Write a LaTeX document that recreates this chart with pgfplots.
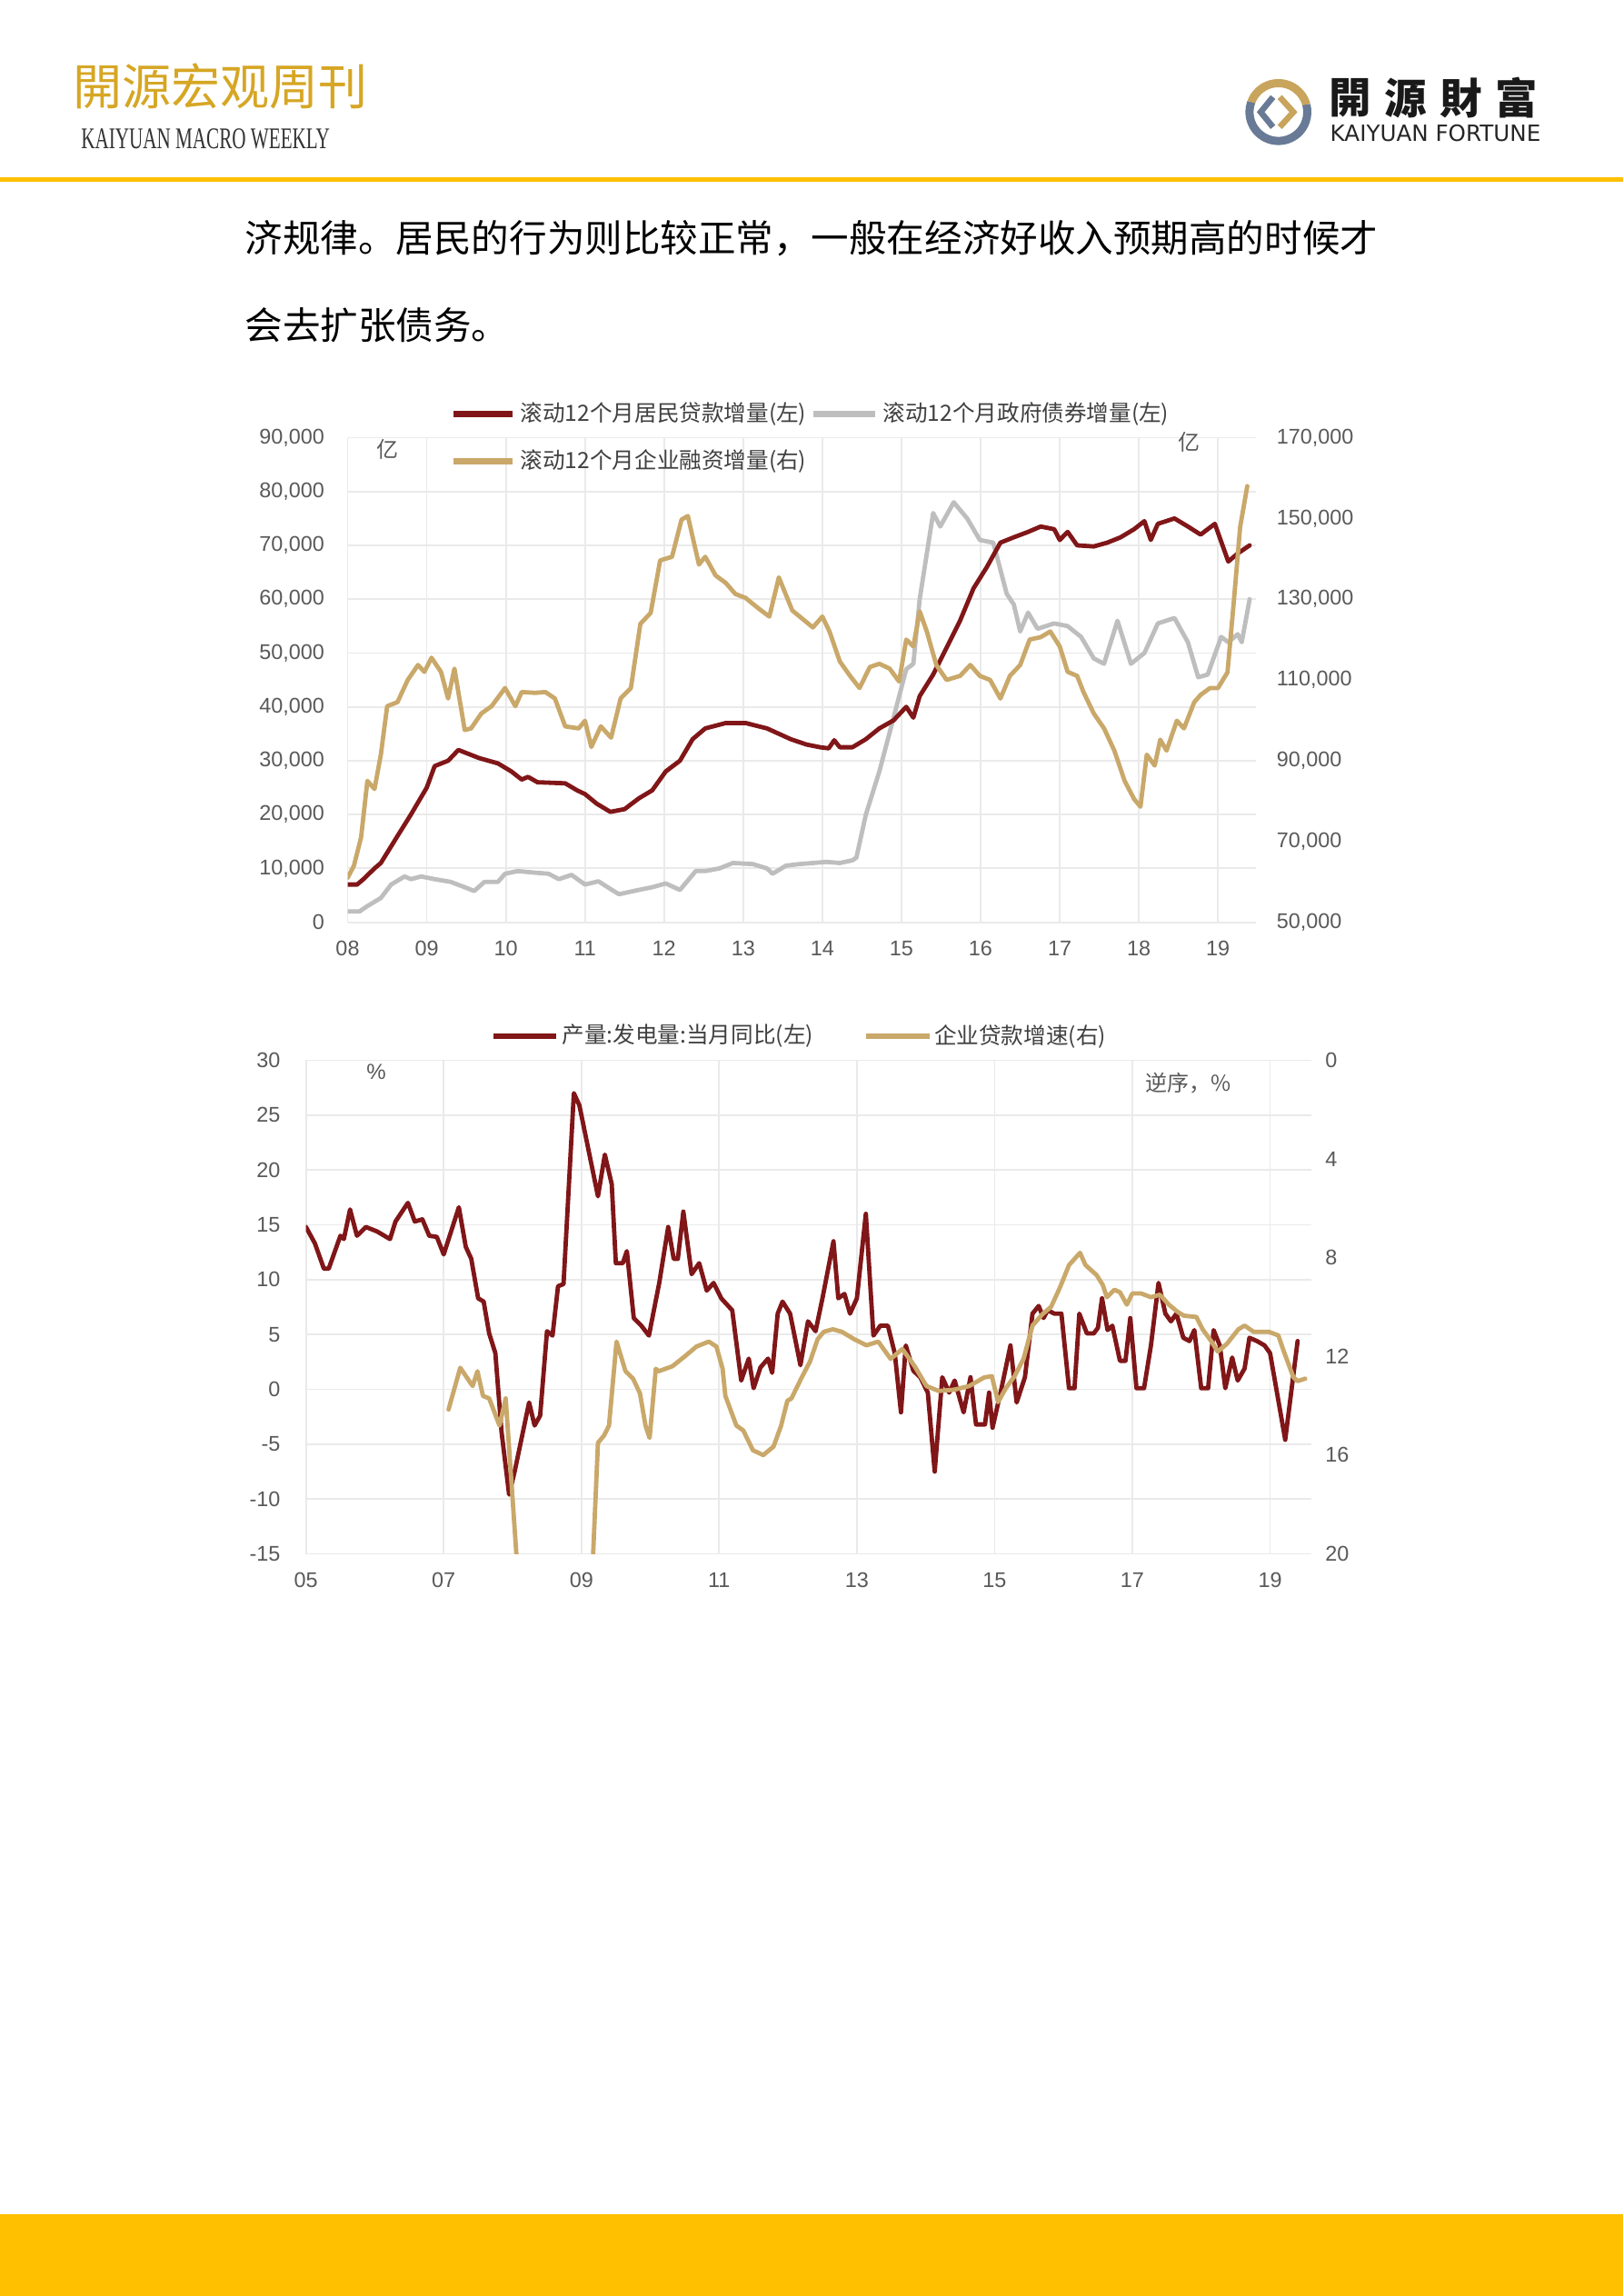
\documentclass[border=0pt]{standalone}
\usepackage{fontspec}
\setmainfont{Liberation Sans}
\newfontfamily\cjk{Noto Sans CJK SC}
\newfontfamily\tcfont{Noto Sans CJK TC}
\newfontfamily\sernarrow{Liberation Serif}
\newfontfamily\dejavu{DejaVu Sans}
\usepackage{pgfplots}
\usepackage{pgfplotstable}
\pgfplotsset{compat=1.18}
\definecolor{hdrgold}{RGB}{214,166,36}
\definecolor{bargold}{RGB}{255,192,0}
\definecolor{redline}{RGB}{128,22,24}
\definecolor{goldline}{RGB}{201,168,106}
\definecolor{grayline}{RGB}{190,190,190}
\definecolor{gridgray}{RGB}{234,234,234}
\definecolor{tickgray}{RGB}{89,89,89}
\definecolor{legtext}{RGB}{64,64,64}
\definecolor{logoblue}{RGB}{104,122,150}
\definecolor{logogold}{RGB}{200,164,92}

\pgfplotstableread{
x y
2008.00 7000
2008.12 7000
2008.20 8000
2008.34 10000
2008.42 11000
2008.63 16000
2008.80 20000
2009.00 25000
2009.10 29000
2009.27 30000
2009.40 32000
2009.66 30500
2009.90 29500
2010.07 28000
2010.20 26500
2010.28 27000
2010.40 26000
2010.75 25800
2010.90 24500
2011.00 23800
2011.15 22000
2011.32 20500
2011.50 21000
2011.68 23000
2011.85 24500
2012.02 28000
2012.20 30000
2012.36 34000
2012.52 36000
2012.78 37000
2013.03 37000
2013.30 36000
2013.45 35000
2013.60 34000
2013.80 33000
2013.97 32500
2014.08 32300
2014.15 33800
2014.22 32500
2014.38 32500
2014.55 34000
2014.72 36000
2014.90 37500
2015.06 40000
2015.15 38000
2015.23 42000
2015.40 46000
2015.57 51000
2015.74 56000
2015.91 62000
2016.08 66000
2016.25 70500
2016.42 71500
2016.60 72500
2016.76 73500
2016.93 73000
2017.00 71000
2017.10 72500
2017.22 70000
2017.43 69800
2017.60 70500
2017.77 71500
2017.94 73000
2018.07 74500
2018.15 71000
2018.24 74000
2018.45 75000
2018.62 73500
2018.78 72000
2018.96 74000
2019.13 67000
2019.25 68500
2019.40 70000
}\resid

\pgfplotstableread{
x y
2008.00 2000
2008.15 2000
2008.25 3000
2008.42 4500
2008.55 7000
2008.72 8500
2008.80 8000
2008.93 8500
2009.10 8000
2009.30 7500
2009.48 6500
2009.60 5800
2009.73 7500
2009.90 7500
2009.99 9000
2010.15 9500
2010.37 9200
2010.54 9000
2010.67 8000
2010.83 8800
2011.00 7000
2011.17 7600
2011.34 6000
2011.43 5200
2011.68 6000
2011.85 6500
2012.02 7200
2012.20 6000
2012.40 9500
2012.52 9500
2012.70 10000
2012.87 11000
2013.12 10800
2013.30 10000
2013.37 9000
2013.54 10500
2013.71 10800
2013.88 11000
2014.05 11200
2014.22 11000
2014.38 11500
2014.43 12000
2014.55 20000
2014.72 28000
2014.90 38000
2015.06 47000
2015.15 48000
2015.23 60000
2015.40 76000
2015.49 73500
2015.66 78000
2015.83 75000
2015.99 71000
2016.16 70500
2016.33 61000
2016.42 59000
2016.50 54000
2016.60 57500
2016.72 54500
2016.93 55500
2017.10 55000
2017.27 53000
2017.43 49000
2017.56 48000
2017.73 56000
2017.90 48000
2018.07 50000
2018.24 55500
2018.45 56500
2018.62 52000
2018.75 45500
2018.87 46000
2019.04 53000
2019.13 52000
2019.25 53500
2019.30 52000
2019.40 60000
}\govt

\pgfplotstableread{
x y
2008.00 61000
2008.08 64000
2008.17 71000
2008.25 85000
2008.34 83000
2008.42 91500
2008.50 103500
2008.63 104500
2008.76 110000
2008.89 113700
2008.97 112000
2009.06 115500
2009.18 112000
2009.27 105400
2009.35 112800
2009.48 97600
2009.56 98000
2009.69 101700
2009.82 103500
2009.99 108000
2010.12 103500
2010.20 107000
2010.37 106800
2010.50 107000
2010.62 105400
2010.75 98500
2010.92 98000
2011.00 99900
2011.08 93400
2011.20 98500
2011.33 95700
2011.45 105400
2011.58 108000
2011.70 123900
2011.83 126600
2011.95 139600
2012.10 140500
2012.22 149700
2012.30 150600
2012.44 138600
2012.52 140500
2012.65 135900
2012.78 134000
2012.90 131300
2013.03 130300
2013.20 127600
2013.33 125700
2013.45 135400
2013.62 127200
2013.80 124300
2013.88 123000
2014.00 125700
2014.09 122000
2014.22 114600
2014.35 111000
2014.47 108000
2014.60 113200
2014.72 114000
2014.85 112800
2014.97 109600
2015.06 120000
2015.15 118300
2015.23 127000
2015.32 122000
2015.44 113700
2015.57 110000
2015.74 111000
2015.87 113700
2015.99 111000
2016.12 110000
2016.25 105400
2016.37 111000
2016.50 113700
2016.62 120000
2016.76 120600
2016.88 122000
2017.00 118300
2017.10 112000
2017.22 111000
2017.30 107000
2017.43 101700
2017.56 98000
2017.69 92500
2017.82 85000
2017.94 80500
2018.02 78600
2018.10 91500
2018.20 88800
2018.27 95200
2018.35 92500
2018.48 99900
2018.57 98000
2018.70 104500
2018.78 106300
2018.90 108000
2019.00 108000
2019.12 111900
2019.20 129400
2019.28 147900
2019.37 158000
}\corp

\pgfplotstableread{
x y
2005.00 14.8
2005.13 13.3
2005.26 11.0
2005.33 11.0
2005.50 14.0
2005.55 13.7
2005.64 16.4
2005.74 14.0
2005.87 14.8
2006.03 14.4
2006.22 13.7
2006.30 15.3
2006.48 17.0
2006.58 15.3
2006.69 15.5
2006.79 14.0
2006.90 13.9
2007.00 12.3
2007.22 16.6
2007.32 13.0
2007.40 11.9
2007.50 8.3
2007.58 8.0
2007.66 5.1
2007.75 3.3
2007.84 -3.9
2007.95 -9.6
2008.03 -7.5
2008.24 -1.2
2008.32 -3.3
2008.40 -2.4
2008.50 5.3
2008.58 4.9
2008.66 9.4
2008.74 9.6
2008.89 27.0
2008.97 25.9
2009.24 17.6
2009.34 21.4
2009.44 18.7
2009.50 11.5
2009.60 11.5
2009.66 12.6
2009.76 6.5
2009.87 5.8
2009.98 4.9
2010.13 9.7
2010.26 14.8
2010.34 11.9
2010.40 11.9
2010.48 16.2
2010.60 10.5
2010.71 11.5
2010.82 9.0
2010.92 9.7
2011.03 8.3
2011.19 7.2
2011.32 0.8
2011.43 2.8
2011.50 0.1
2011.60 2.0
2011.71 2.8
2011.77 1.5
2011.85 6.9
2011.92 8.0
2012.03 6.9
2012.18 2.2
2012.29 6.2
2012.40 5.3
2012.50 8.3
2012.66 13.5
2012.73 8.3
2012.82 8.7
2012.90 6.9
2013.00 8.3
2013.13 16.0
2013.24 4.9
2013.34 5.8
2013.45 5.8
2013.55 3.3
2013.64 -2.1
2013.71 4.0
2013.82 1.7
2013.92 1.1
2014.03 -0.3
2014.13 -7.5
2014.24 1.1
2014.34 -0.3
2014.42 0.8
2014.55 -2.1
2014.65 1.1
2014.73 -3.2
2014.86 -3.2
2014.92 -0.3
2014.97 -3.5
2015.10 0.1
2015.23 4.0
2015.32 -1.2
2015.44 1.1
2015.55 6.9
2015.64 7.6
2015.71 6.5
2015.77 7.2
2015.87 6.9
2015.97 6.9
2016.08 0.1
2016.16 0.1
2016.23 6.9
2016.34 5.1
2016.44 5.1
2016.50 5.6
2016.56 8.3
2016.64 5.4
2016.71 5.8
2016.82 2.6
2016.90 2.6
2016.97 6.5
2017.06 0.1
2017.17 0.1
2017.27 4.0
2017.38 9.7
2017.48 6.9
2017.56 6.2
2017.64 6.9
2017.74 4.7
2017.83 4.4
2017.90 5.4
2018.00 0.1
2018.10 0.1
2018.18 5.4
2018.27 4.0
2018.35 0.1
2018.45 2.9
2018.53 0.8
2018.63 1.9
2018.70 4.7
2018.81 4.4
2018.92 4.0
2019.00 3.3
2019.22 -4.6
2019.40 4.4
}\power

\pgfplotstableread{
x y
2007.07 14.15
2007.24 12.46
2007.42 13.2
2007.49 12.6
2007.57 13.6
2007.66 13.7
2007.81 14.8
2007.90 13.7
2008.06 20.2
2008.20 23.0
2008.60 26.0
2009.10 25.0
2009.17 20.0
2009.24 15.5
2009.33 15.2
2009.40 14.8
2009.51 11.4
2009.64 12.6
2009.75 12.9
2009.85 13.5
2009.93 14.8
2009.99 15.3
2010.08 12.5
2010.12 12.6
2010.32 12.4
2010.50 12.0
2010.67 11.6
2010.85 11.4
2010.96 11.6
2011.05 12.5
2011.09 13.6
2011.25 14.8
2011.35 15.0
2011.49 15.8
2011.64 16.0
2011.79 15.65
2011.90 14.8
2011.99 13.8
2012.05 13.7
2012.19 12.9
2012.32 12.2
2012.43 11.3
2012.52 11.0
2012.65 10.9
2012.78 11.0
2012.96 11.3
2013.14 11.55
2013.31 11.4
2013.49 12.1
2013.66 11.7
2013.84 12.4
2014.01 13.2
2014.19 13.4
2014.41 13.35
2014.63 13.2
2014.85 12.85
2014.96 12.8
2015.05 13.85
2015.16 13.3
2015.29 12.8
2015.42 12.1
2015.55 10.75
2015.69 10.3
2015.82 9.99
2015.95 9.2
2016.08 8.3
2016.24 7.8
2016.32 8.3
2016.48 8.7
2016.57 9.1
2016.63 9.6
2016.74 9.3
2016.82 9.4
2016.92 9.9
2017.00 9.45
2017.13 9.45
2017.27 9.6
2017.40 9.5
2017.53 9.9
2017.66 10.2
2017.75 10.35
2017.93 10.4
2018.02 10.9
2018.15 11.4
2018.24 11.8
2018.37 11.5
2018.54 10.9
2018.63 10.75
2018.76 11.0
2018.98 11.0
2019.12 11.15
2019.20 11.8
2019.34 12.85
2019.40 13.0
2019.51 12.9
}\loans

\pgfplotsset{
  base/.style={
    scale only axis,
    axis line style={draw=none},
    tick style={draw=none},
    clip=true,
    tick label style={font=\fontsize{7.8}{8}\selectfont, text=tickgray, inner sep=0pt},
    /pgf/number format/assume math mode=true,
    scaled y ticks=false,
    yticklabel style={/pgf/number format/fixed, /pgf/number format/1000 sep={,}},
  },
  ser/.style={line width=1.6pt, line join=round, line cap=round},
}

\begin{document}
\begin{tikzpicture}
\fill[white] (0pt,0pt) rectangle (595.33pt,-842pt);

% ---------- header ----------
\node[anchor=west, inner sep=0pt, text=hdrgold] at (26.7pt,-31.7pt) {\cjk\fontsize{18}{18}\selectfont 開源宏观周刊};
\node[anchor=west, inner sep=0pt, text=black!80] at (29.6pt,-51pt) {\scalebox{0.64}[1]{\sernarrow\fontsize{11}{11}\selectfont KAIYUAN MACRO WEEKLY}};
% logo
\draw[logogold, line width=3pt] (468.9pt,-41.1pt) ++(15:10.6pt) arc[start angle=15, end angle=160, radius=10.6pt];
\draw[logoblue, line width=3pt] (468.9pt,-41.1pt) ++(160:10.6pt) arc[start angle=160, end angle=375, radius=10.6pt];
\draw[logoblue, line width=2.2pt] (466.9pt,-35.6pt) -- (462.4pt,-41.1pt) -- (466.9pt,-46.6pt);
\draw[logogold, line width=2.2pt] (469.4pt,-35.6pt) -- (474.4pt,-41.1pt) -- (469.4pt,-46.6pt);
\foreach \c/\xx in {開/495.2, 源/515.5, 財/535.8, 富/556.2}{
  \node[inner sep=0pt, text=black!90] at (\xx pt,-36pt) {\tcfont\bfseries\fontsize{15.5}{15.5}\selectfont \c};
}
\node[anchor=west, inner sep=0pt, text=black!85] at (487.7pt,-48.8pt) {\dejavu\fontsize{8.2}{8.2}\selectfont KAIYUAN FORTUNE};
% header rule
\fill[bargold] (0pt,-65pt) rectangle (595.33pt,-66.7pt);

% ---------- body text ----------
\node[anchor=west, inner sep=0pt] at (89.67pt,-87.5pt) {\cjk\fontsize{13.85}{13.85}\selectfont 济规律。居民的行为则比较正常，一般在经济好收入预期高的时候才};
\node[anchor=west, inner sep=0pt] at (89.67pt,-119.2pt) {\cjk\fontsize{13.85}{13.85}\selectfont 会去扩张债务。};

% ---------- chart 1 ----------
\begin{axis}[base,
  at={(127.5pt,-338.2pt)}, anchor=south west,
  width=333.17pt, height=177.7pt,
  xmin=2008, xmax=2019.48, ymin=0, ymax=90000,
  xtick={2008,...,2019},
  xticklabels={08,09,10,11,12,13,14,15,16,17,18,19},
  ytick={0,10000,...,90000},
  grid=major, major grid style={gridgray, line width=0.6pt},
  xticklabel style={anchor=center}, xticklabel shift=9.7pt,
  yticklabel style={anchor=east}, yticklabel shift=8.3pt,
]
\addplot[ser, grayline] table[x=x,y=y] {\govt};
\addplot[ser, redline] table[x=x,y=y] {\resid};
\end{axis}
\begin{axis}[base,
  at={(127.5pt,-338.2pt)}, anchor=south west,
  width=333.17pt, height=177.7pt,
  xmin=2008, xmax=2019.48, ymin=50000, ymax=170000,
  axis x line=none, axis y line*=right,
  ytick={50000,70000,...,170000},
  yticklabel style={anchor=west}, yticklabel shift=7.4pt,
]
\addplot[ser, goldline] table[x=x,y=y] {\corp};
\end{axis}
% chart 1 legend & units
\draw[redline, line width=2.2pt] (166.3pt,-151.9pt) -- (188pt,-151.9pt);
\node[anchor=west, inner sep=0pt, text=legtext] at (190.7pt,-151.9pt) {\cjk\fontsize{8.2}{8.2}\selectfont 滚动12个月居民贷款增量(左)};
\draw[grayline, line width=2.2pt] (298.3pt,-151.9pt) -- (321pt,-151.9pt);
\node[anchor=west, inner sep=0pt, text=legtext] at (323.7pt,-151.9pt) {\cjk\fontsize{8.2}{8.2}\selectfont 滚动12个月政府债券增量(左)};
\draw[goldline, line width=2.2pt] (166.3pt,-169.1pt) -- (188pt,-169.1pt);
\node[anchor=west, inner sep=0pt, text=legtext] at (190.7pt,-169.1pt) {\cjk\fontsize{8.2}{8.2}\selectfont 滚动12个月企业融资增量(右)};
\node[inner sep=0pt, text=tickgray] at (142.3pt,-164.7pt) {\cjk\fontsize{8}{8}\selectfont 亿};
\node[inner sep=0pt, text=tickgray] at (436pt,-162pt) {\cjk\fontsize{8}{8}\selectfont 亿};

% ---------- chart 2 ----------
\begin{axis}[base,
  at={(112.23pt,-569.83pt)}, anchor=south west,
  width=368.77pt, height=181pt,
  xmin=2005, xmax=2019.6, ymin=-15, ymax=30,
  xtick={2005,2007,...,2019},
  xticklabels={05,07,09,11,13,15,17,19},
  ytick={-15,-10,...,30},
  grid=major, major grid style={gridgray, line width=0.6pt},
  xticklabel style={anchor=center}, xticklabel shift=9.7pt,
  yticklabel style={anchor=east}, yticklabel shift=9.2pt,
]
\addplot[ser, redline] table[x=x,y=y] {\power};
\end{axis}
\begin{axis}[base,
  at={(112.23pt,-569.83pt)}, anchor=south west,
  width=368.77pt, height=181pt,
  xmin=2005, xmax=2019.6, ymin=0, ymax=20, y dir=reverse,
  axis x line=none, axis y line*=right,
  ytick={0,4,...,20},
  yticklabel style={anchor=west}, yticklabel shift=4.9pt,
]
\addplot[ser, goldline] table[x=x,y=y] {\loans};
\end{axis}
\draw[redline, line width=2.2pt] (181pt,-380pt) -- (204pt,-380pt);
\node[anchor=west, inner sep=0pt, text=legtext] at (206pt,-380pt) {\cjk\fontsize{8.2}{8.2}\selectfont 产量:发电量:当月同比(左)};
\draw[goldline, line width=2.2pt] (317.7pt,-380pt) -- (341pt,-380pt);
\node[anchor=west, inner sep=0pt, text=legtext] at (342.5pt,-380pt) {\cjk\fontsize{8.2}{8.2}\selectfont 企业贷款增速(右)};
\node[inner sep=0pt, text=tickgray] at (138pt,-393pt) {\fontsize{8}{8}\selectfont \%};
\node[inner sep=0pt, text=tickgray] at (436pt,-397.3pt) {\cjk\fontsize{8}{8}\selectfont 逆序，\%};

% ---------- footer ----------
\fill[bargold] (0pt,-812pt) rectangle (595.33pt,-842pt);
\end{tikzpicture}
\end{document}
